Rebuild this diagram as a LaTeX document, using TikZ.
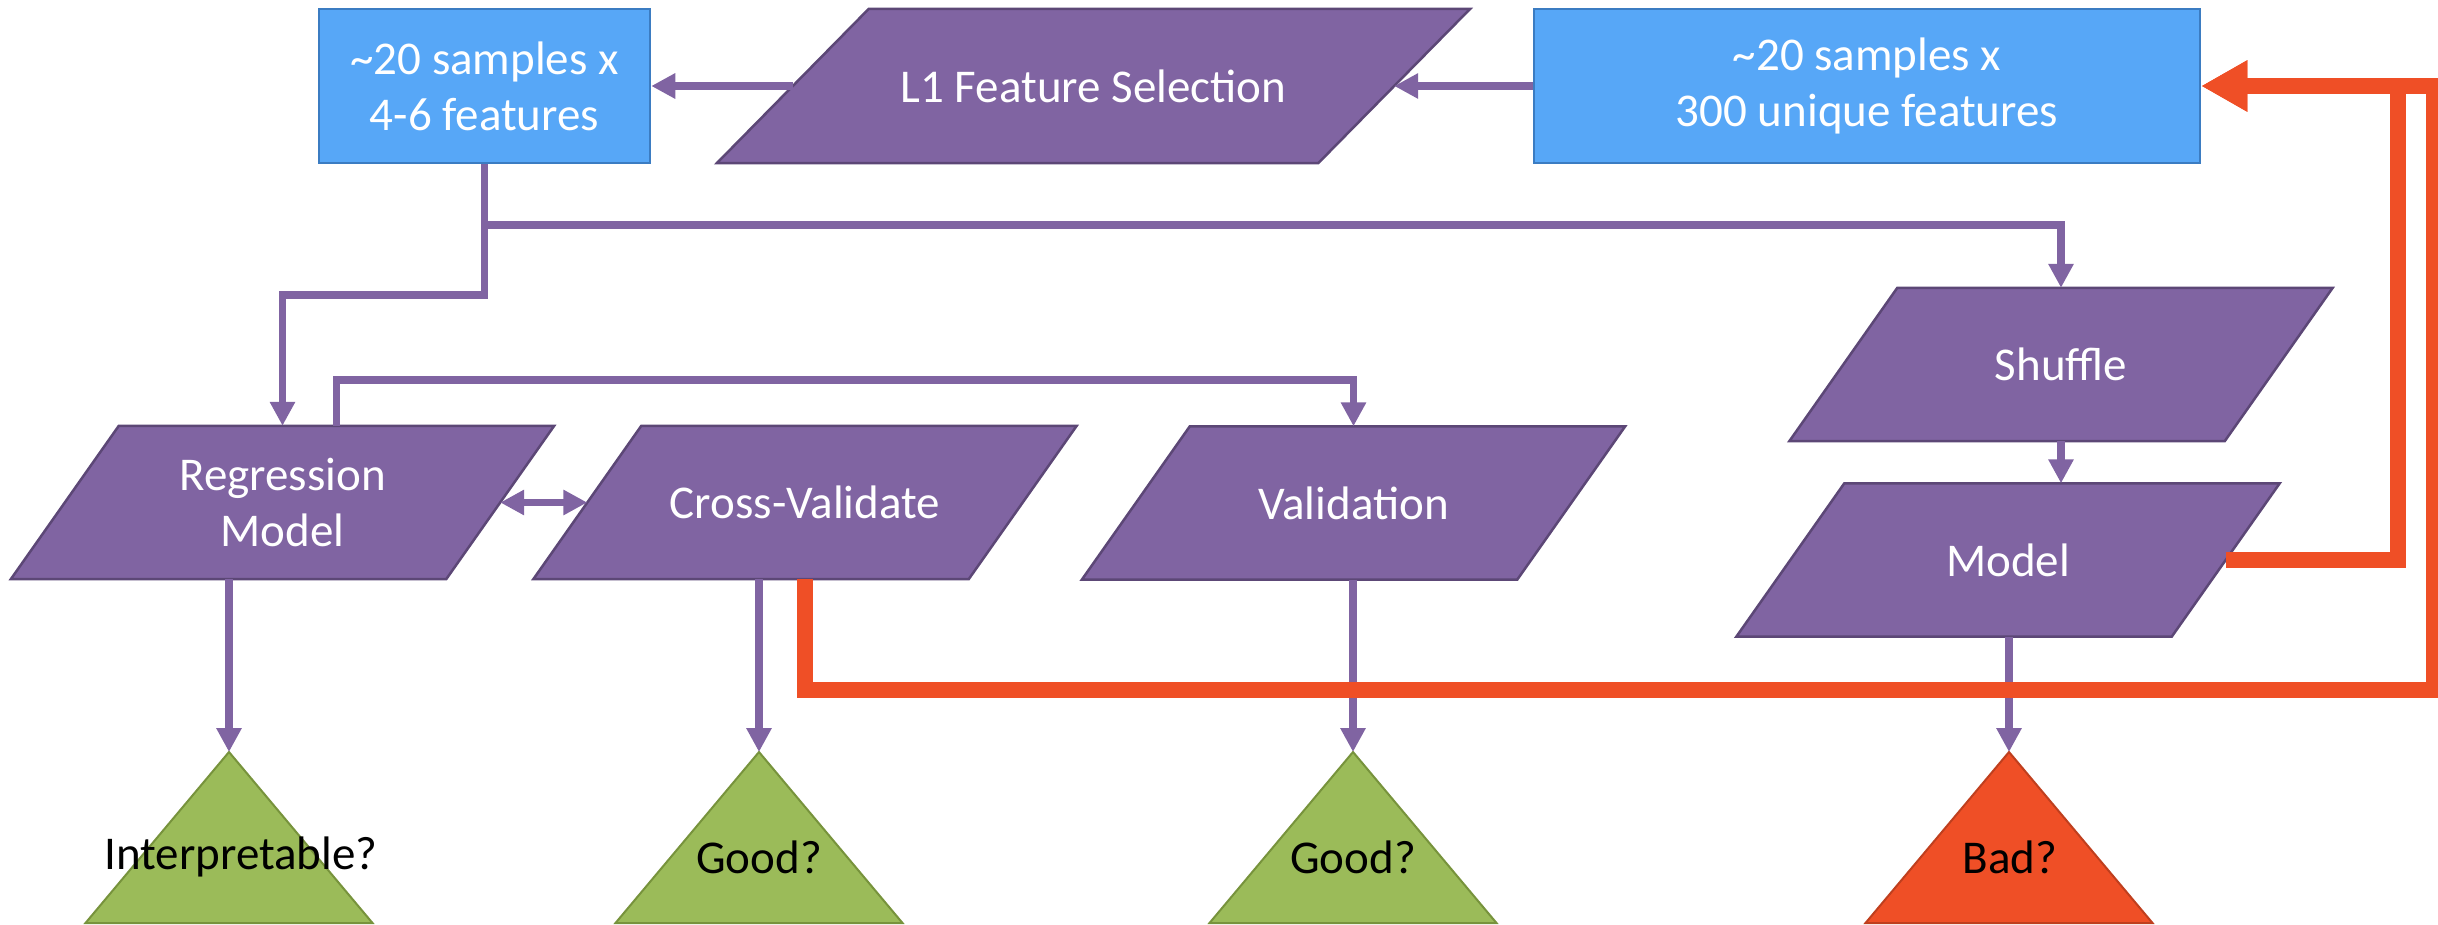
\documentclass[tikz,border=0pt]{standalone}
\usepackage{fontspec}
\setmainfont{Carlito}
\usetikzlibrary{arrows.meta,calc,backgrounds}

\definecolor{purpfill}{HTML}{8064A2}
\definecolor{purpline}{HTML}{5C4776}
\definecolor{bluefill}{HTML}{57A7F7}
\definecolor{blueline}{HTML}{3B7CC2}
\definecolor{greenfill}{HTML}{9BBB59}
\definecolor{greenline}{HTML}{77933C}
\definecolor{redfill}{HTML}{EF4F26}

\begin{document}
\begin{tikzpicture}[x=1pt, y=-1pt,
    every node/.style={font=\fontsize{47}{56}\selectfont},
    data box/.style={rectangle, fill=bluefill, draw=blueline, line width=2.5pt,
        text=white, align=center, inner sep=0pt, minimum height=154pt},
    process/.style={rectangle, text=white, align=center, inner sep=0pt,
        minimum width=327pt, minimum height=153pt},
    slab/.style={fill=purpfill, draw=purpline, line width=2.5pt},
    flow/.style={draw=purpfill, line width=7.5pt, -{Triangle[width=24pt,length=24pt]}},
    back flow/.style={draw=redfill, line width=16pt, -{Triangle[width=48pt,length=46pt]}},
    verdict/.style={draw=greenline, fill=greenfill, line width=2pt}]
    \useasboundingbox (0,0) rectangle (2438,925);

    % top row
    \node[data box, minimum width=331pt] (few) at (484.5,86) {\textasciitilde20 samples x\\4-6 features};
    \node[data box, minimum width=666pt] (all) at (1867,86) {\textasciitilde20 samples x\\300 unique features};
    \node[process, minimum width=449pt, minimum height=154pt] (lasso) at (1093.5,86) {L1 Feature Selection};

    % models
    \node[process] (reg) at (282.5,502.5) {Regression\\Model};
    \node[process] (cv) at (805,502.5) {Cross-Validate};
    \node[process] (val) at (1353.5,503) {Validation};
    \node[process] (shuf) at (2061,364.5) {Shuffle};
    \node[process] (model) at (2008,560) {Model};

    % parallelograms behind the texts
    \begin{scope}[on background layer]
        \foreach \n in {reg,cv,val,shuf,model}
            \filldraw[slab] ($(\n.south west)+(-108,0)$) -- (\n.north west)
                -- ($(\n.north east)+(108,0)$) -- (\n.south east) -- cycle;
        \filldraw[slab] ($(lasso.south west)+(-152,0)$) -- (lasso.north west)
            -- ($(lasso.north east)+(152,0)$) -- (lasso.south east) -- cycle;
    \end{scope}

    % outcomes
    \coordinate (t1) at (229,752);
    \coordinate (t2) at (759,752);
    \coordinate (t3) at (1353,752);
    \coordinate (t4) at (2009,752);
    \foreach \t in {t1,t2,t3}
        \filldraw[verdict] (\t) -- ++(143.5,171) -- ++(-287,0) -- cycle;
    \filldraw[verdict, draw=redfill!80!black, fill=redfill] (t4) -- ++(143.5,171) -- ++(-287,0) -- cycle;
    \node (q1) at (241,857) {Interpretable?};
    \node (q2) at (759,857) {Good?};
    \node (q3) at (1353,857) {Good?};
    \node (q4) at (2010,857) {Bad?};

    % purple connectors
    \draw[flow] (all.west) -- ($(lasso.east)+(76,0)$);
    \draw[flow] ($(lasso.west)+(-76,0)$) -- (few.east);
    \draw[flow] (few.south) -- (few.south |- 0,295) -| (reg.north);
    \draw[flow] (few.south |- 0,225) -| (shuf.north);
    \draw[flow] ($(reg.north)+(54,0)$) |- (0,380 -| val.north) -- (val.north);
    \draw[flow] (shuf.south) -- (shuf.south |- model.north);
    \draw[flow, {Triangle[width=24pt,length=24pt]}-{Triangle[width=24pt,length=24pt]}]
        ($(reg.east)+(54,0)$) -- ($(cv.west)+(-54,0)$);
    \draw[flow] (t1 |- reg.south) -- (t1);
    \draw[flow] (t2 |- cv.south) -- (t2);
    \draw[flow] (t3 |- val.south) -- (t3);
    \draw[flow] (t4 |- model.south) -- (t4);

    % red feedback
    \coordinate (far) at (2434,690);
    \draw[back flow] (cv.south) |- (far) |- (all.east);
    \draw[back flow] ($(model.east)+(54,0)$) -| ($(all.east)+(197,0)$) -- (all.east);
\end{tikzpicture}
\end{document}
